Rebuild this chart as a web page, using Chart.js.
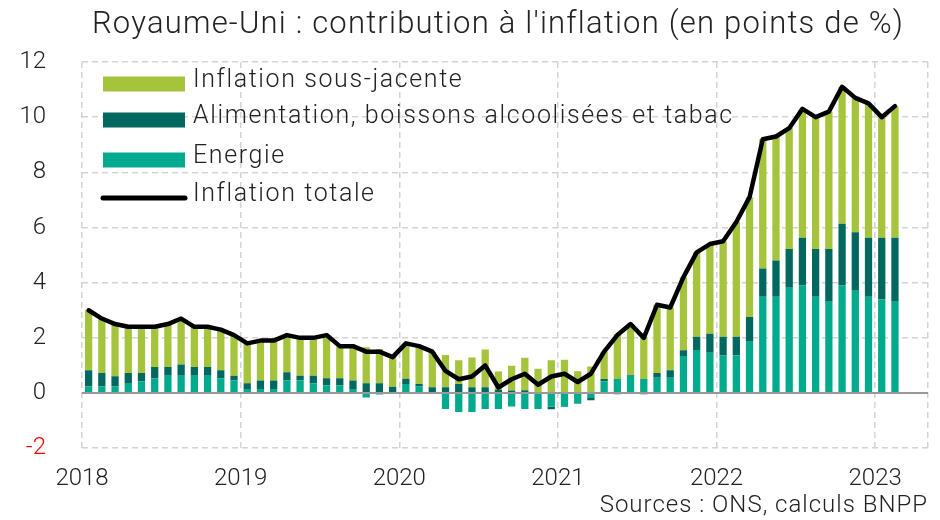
<!DOCTYPE html>
<html lang="fr">
<head>
<meta charset="UTF-8">
<title>Royaume-Uni : contribution à l'inflation</title>
<style>
  html, body { margin: 0; padding: 0; background: #fff; }
  #wrap { width: 940px; height: 520px; position: relative; }
</style>
</head>
<body>
<div id="wrap"><canvas id="chart" width="940" height="520"></canvas></div>

<script src="https://cdn.jsdelivr.net/npm/chart.js"></script>
<script>
// Monthly data, Jan 2018 -> Feb 2023 (the axis runs on to Apr 2023)
const years = [2018, 2019, 2020, 2021, 2022, 2023];
const monthsShown = 64;

const energie = [
  0.24, 0.24, 0.24, 0.34, 0.43, 0.54, 0.63, 0.63, 0.63, 0.63, 0.54, 0.45,
  0.15, 0.15, 0.15, 0.45, 0.45, 0.35, 0.27, 0.27, 0.15, -0.16, -0.05, -0.02,
  0.33, 0.24, 0.02, -0.58, -0.69, -0.69, -0.58, -0.58, -0.49, -0.58, -0.58, -0.50,
  -0.49, -0.37, -0.18, 0.43, 0.51, 0.63, 0.51, 0.55, 0.55, 1.34, 1.56, 1.46,
  1.36, 1.36, 1.86, 3.49, 3.49, 3.82, 3.90, 3.49, 3.31, 3.90, 3.71, 3.49,
  3.40, 3.31
];
const alimentation = [
  0.59, 0.49, 0.37, 0.39, 0.30, 0.40, 0.31, 0.40, 0.31, 0.31, 0.29, 0.18,
  0.20, 0.30, 0.30, 0.30, 0.18, 0.28, 0.27, 0.27, 0.30, 0.35, 0.35, 0.23,
  0.19, 0.09, 0.19, 0.21, 0.33, 0.21, 0.21, 0.12, 0.09, 0.10, 0.03, -0.09,
  -0.02, -0.02, -0.08, 0.08, -0.04, 0.02, -0.04, 0.18, 0.28, 0.21, 0.48, 0.69,
  0.68, 0.68, 0.90, 1.02, 1.31, 1.40, 1.73, 1.73, 1.91, 2.24, 2.12, 2.14,
  2.23, 2.32
];
const sousJacente = [
  2.17, 1.97, 1.89, 1.67, 1.67, 1.46, 1.56, 1.67, 1.46, 1.46, 1.47, 1.47,
  1.45, 1.45, 1.45, 1.35, 1.37, 1.37, 1.56, 1.16, 1.25, 1.31, 1.25, 1.09,
  1.28, 1.37, 1.29, 1.17, 0.86, 1.08, 1.37, 0.66, 0.90, 1.18, 0.85, 1.19,
  1.21, 0.79, 0.96, 0.99, 1.63, 1.85, 1.53, 2.47, 2.27, 2.65, 3.06, 3.25,
  3.46, 4.16, 4.34, 4.69, 4.50, 4.38, 4.67, 4.78, 4.98, 4.96, 4.87, 4.87,
  4.37, 4.77
];
const totale = [
  3.0, 2.7, 2.5, 2.4, 2.4, 2.4, 2.5, 2.7, 2.4, 2.4, 2.3, 2.1,
  1.8, 1.9, 1.9, 2.1, 2.0, 2.0, 2.1, 1.7, 1.7, 1.5, 1.5, 1.3,
  1.8, 1.7, 1.5, 0.8, 0.5, 0.6, 1.0, 0.2, 0.5, 0.7, 0.3, 0.6,
  0.7, 0.4, 0.7, 1.5, 2.1, 2.5, 2.0, 3.2, 3.1, 4.2, 5.1, 5.4,
  5.5, 6.2, 7.1, 9.2, 9.3, 9.6, 10.3, 10.0, 10.2, 11.1, 10.7, 10.5,
  10.0, 10.4
];

const yMin = -2, yMax = 12, yStep = 2;

const cLight = '#a5c33b';
const cDark = '#00685e';
const cTeal = '#00aa8c';
const FONT = 'Roboto, "Liberation Sans", sans-serif';

// one label per month, the year is only written under January
const labels = [];
for (let i = 0; i < monthsShown; i++) {
  const y = years[0] + Math.floor(i / 12);
  labels.push(i % 12 === 0 ? String(y) : '');
}

// title, legend, source and the zero line drawn on top of the bars
const extras = {
  id: 'extras',
  afterDatasetsDraw(chart) {
    const { ctx, chartArea: a, scales } = chart;
    const y0 = scales.y.getPixelForValue(0);
    ctx.save();
    ctx.strokeStyle = '#999';
    ctx.lineWidth = 2;
    ctx.beginPath();
    ctx.moveTo(a.left, y0);
    ctx.lineTo(a.right, y0);
    ctx.stroke();
    ctx.restore();
  },
  afterDraw(chart) {
    const { ctx, chartArea: a } = chart;
    ctx.save();
    ctx.fillStyle = '#222';
    ctx.textBaseline = 'middle';

    ctx.font = '300 31px ' + FONT;
    ctx.letterSpacing = '1.2px';
    ctx.textAlign = 'center';
    ctx.fillText("Royaume-Uni : contribution à l'inflation (en points de %)", 498, 25);

    const items = [
      { text: 'Inflation sous-jacente', color: cLight, y: 84 },
      { text: 'Alimentation, boissons alcoolisées et tabac', color: cDark, y: 120 },
      { text: 'Energie', color: cTeal, y: 160 },
      { text: 'Inflation totale', color: '#000', y: 198, line: true }
    ];
    ctx.font = '300 25px ' + FONT;
    ctx.letterSpacing = '1.6px';
    ctx.textAlign = 'left';
    items.forEach(it => {
      const x = a.left + 21;
      if (it.line) {
        ctx.strokeStyle = it.color;
        ctx.lineWidth = 5;
        ctx.lineCap = 'round';
        ctx.beginPath();
        ctx.moveTo(x, it.y);
        ctx.lineTo(x + 82, it.y);
        ctx.stroke();
      } else {
        ctx.fillStyle = it.color;
        ctx.fillRect(x, it.y - 7.5, 82, 15);
      }
      ctx.fillStyle = '#222';
      ctx.fillText(it.text, x + 90, it.y - 3);
    });

    ctx.font = '300 24px ' + FONT;
    ctx.letterSpacing = '1px';
    ctx.textAlign = 'right';
    ctx.fillText('Sources : ONS, calculs BNPP', a.right, 506);
    ctx.restore();
  }
};

new Chart(document.getElementById('chart'), {
  data: {
    labels: labels,
    datasets: [
      { type: 'line', label: 'Inflation totale', data: totale, borderColor: '#000', borderWidth: 4.5,
        pointRadius: 0, tension: 0, borderJoinStyle: 'round', borderCapStyle: 'round', stack: 'total', order: 0 },
      { type: 'bar', label: 'Energie', data: energie, backgroundColor: cTeal, stack: 'contrib', order: 1 },
      { type: 'bar', label: 'Alimentation, boissons alcoolisées et tabac', data: alimentation, backgroundColor: cDark, stack: 'contrib', order: 1 },
      { type: 'bar', label: 'Inflation sous-jacente', data: sousJacente, backgroundColor: cLight, stack: 'contrib', order: 1 }
    ]
  },
  options: {
    responsive: false,
    animation: false,
    layout: { padding: { top: 62, right: 12, bottom: 11, left: 0 } },
    datasets: { bar: { categoryPercentage: 1, barPercentage: 0.55 } },
    plugins: { legend: { display: false }, title: { display: false }, tooltip: { enabled: false } },
    scales: {
      x: {
        stacked: true,
        offset: true,
        grid: {
          offset: true,
          drawTicks: false,
          lineWidth: 1.5,
          color: ctx => (ctx.index === undefined || ctx.index % 12 === 0) ? '#d4d4d4' : 'rgba(0,0,0,0)'
        },
        border: { display: false, dash: [6, 4] },
        ticks: {
          autoSkip: false,
          maxRotation: 0,
          padding: 16,
          labelOffset: -6.6,
          color: '#222',
          font: { family: FONT, size: 24, weight: 300 }
        }
      },
      y: {
        stacked: true,
        min: yMin,
        max: yMax,
        afterFit: s => { s.width = 82; },
        grid: { drawTicks: false, lineWidth: 1.5, color: '#d4d4d4' },
        border: { display: false, dash: ctx => (ctx.tick && ctx.tick.value === 0) ? [] : [6, 4] },
        ticks: {
          stepSize: yStep,
          padding: 36,
          color: ctx => ctx.tick.value < 0 ? '#ff0000' : '#222',
          font: { family: FONT, size: 24, weight: 300 }
        }
      }
    }
  },
  plugins: [extras]
});
</script>
</body>
</html>
